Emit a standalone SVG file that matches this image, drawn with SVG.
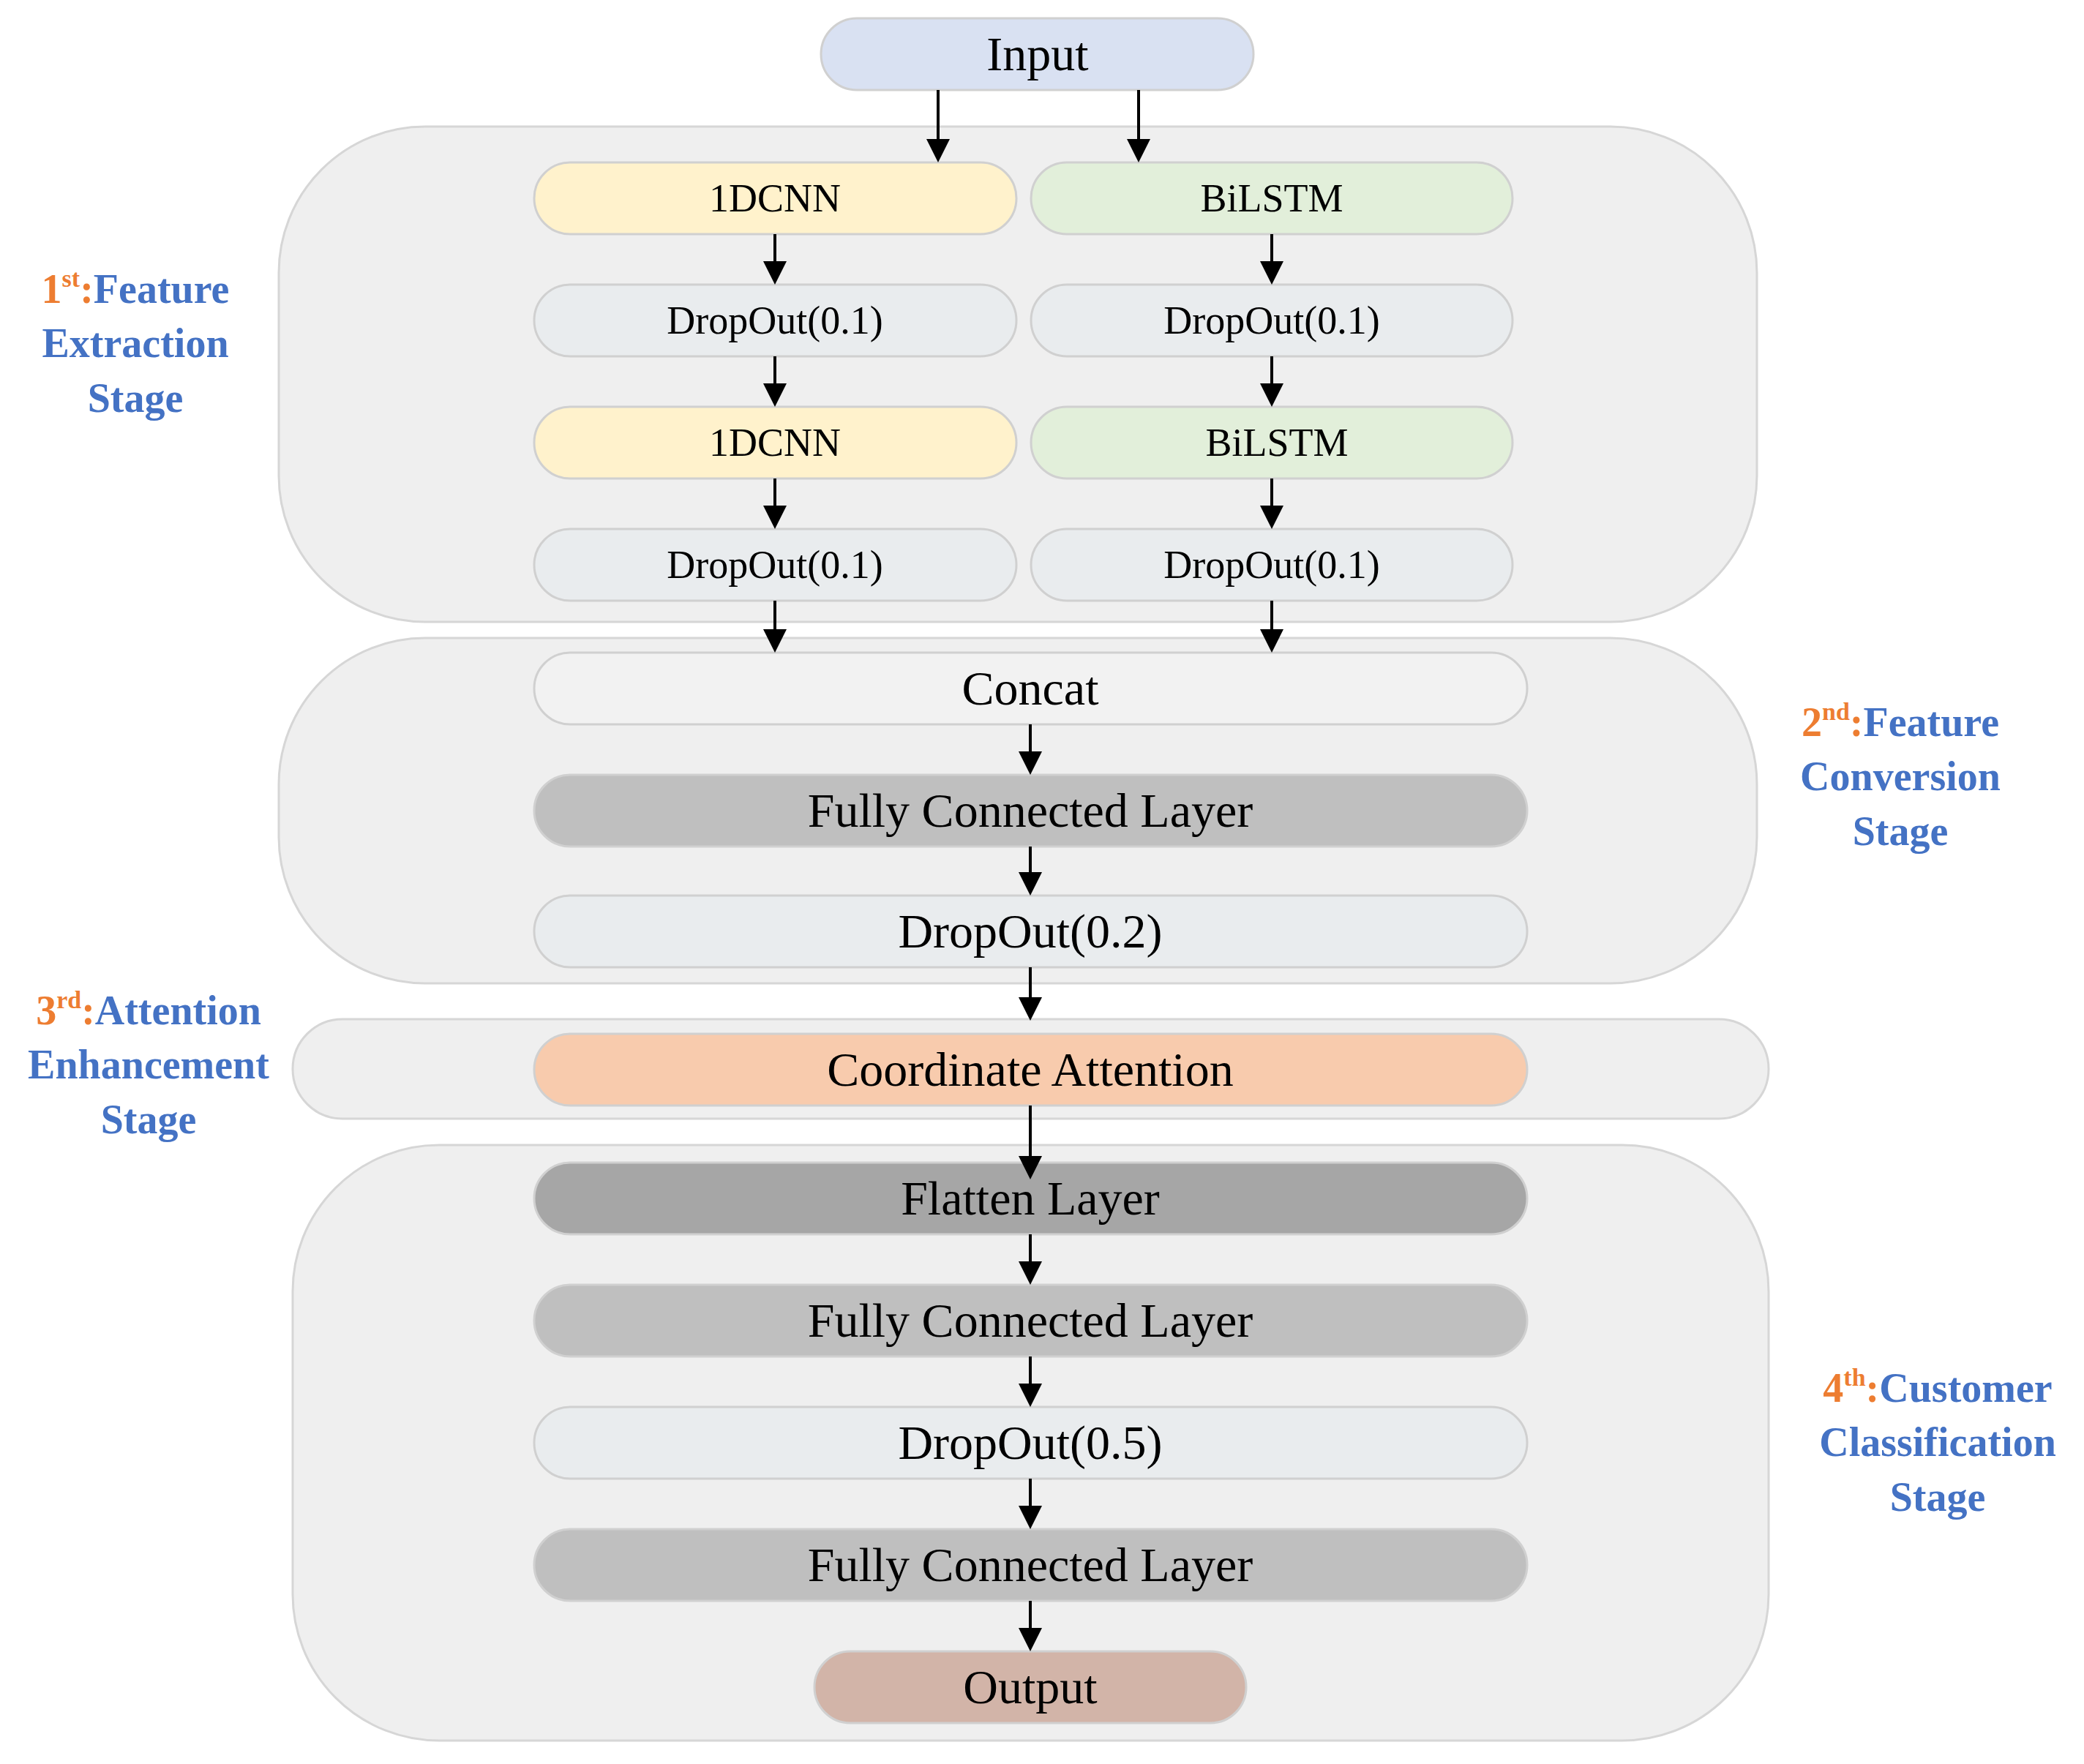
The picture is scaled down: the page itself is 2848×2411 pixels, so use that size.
<svg xmlns="http://www.w3.org/2000/svg" width="2848" height="2411" viewBox="0 0 2848 2411">
<style>
.st{fill:#EFEFEF;stroke:#D6D6D6;stroke-width:3}
.n{stroke:#D0D0D0;stroke-width:3}
.t{font-family:"Liberation Serif",serif;font-size:54px;text-anchor:middle;fill:#000}
.T{font-family:"Liberation Serif",serif;font-size:66px;text-anchor:middle;fill:#000}
.lb{font-family:"Liberation Serif",serif;font-size:56px;font-weight:bold;text-anchor:middle;fill:#4472C4}
.or{fill:#ED7D31}
.c line{stroke:#000;stroke-width:4;marker-end:url(#a)}
</style>
<defs><marker id="a" markerWidth="8" markerHeight="8" refX="7" refY="4" orient="auto" markerUnits="strokeWidth"><path d="M0,0L8,4L0,8z" fill="#000"/></marker></defs>
<g id="stages">
<rect class="st" x="381" y="173" width="2020" height="677" rx="200"/>
<rect class="st" x="381" y="872" width="2020" height="472" rx="200"/>
<rect class="st" x="400" y="1393" width="2017" height="136" rx="68"/>
<rect class="st" x="400" y="1565" width="2017" height="814" rx="200"/>
</g>
<g id="labels">
<text class="lb" x="185" y="414"><tspan class="or">1<tspan font-size="34" dy="-22">st</tspan><tspan dy="22">:</tspan></tspan>Feature</text>
<text class="lb" x="185" y="488">Extraction</text>
<text class="lb" x="185" y="563">Stage</text>
<text class="lb" x="2597" y="1006"><tspan class="or">2<tspan font-size="34" dy="-22">nd</tspan><tspan dy="22">:</tspan></tspan>Feature</text>
<text class="lb" x="2597" y="1080">Conversion</text>
<text class="lb" x="2597" y="1155">Stage</text>
<text class="lb" x="203" y="1400"><tspan class="or">3<tspan font-size="34" dy="-22">rd</tspan><tspan dy="22">:</tspan></tspan>Attention</text>
<text class="lb" x="203" y="1474">Enhancement</text>
<text class="lb" x="203" y="1549">Stage</text>
<text class="lb" x="2648" y="1916"><tspan class="or">4<tspan font-size="34" dy="-22">th</tspan><tspan dy="22">:</tspan></tspan>Customer</text>
<text class="lb" x="2648" y="1990">Classification</text>
<text class="lb" x="2648" y="2065">Stage</text>
</g>
<g id="input"><rect class="n" x="1122" y="25" width="591" height="98" rx="49" fill="#D9E1F2"/><text class="T" x="1418" y="96">Input</text></g>
<g id="cnn1"><rect class="n" x="730" y="222" width="659" height="98" rx="49" fill="#FFF2CC"/><text class="t" x="1059" y="289">1DCNN</text></g>
<g id="lstm1"><rect class="n" x="1409" y="222" width="658" height="98" rx="49" fill="#E2EFDA"/><text class="t" x="1738" y="289">BiLSTM</text></g>
<g id="dl1"><rect class="n" x="730" y="389" width="659" height="98" rx="49" fill="#E9ECEE"/><text class="t" x="1059" y="456">DropOut(0.1)</text></g>
<g id="dr1"><rect class="n" x="1409" y="389" width="658" height="98" rx="49" fill="#E9ECEE"/><text class="t" x="1738" y="456">DropOut(0.1)</text></g>
<g id="cnn2"><rect class="n" x="730" y="556" width="659" height="98" rx="49" fill="#FFF2CC"/><text class="t" x="1059" y="623">1DCNN</text></g>
<g id="lstm2"><rect class="n" x="1409" y="556" width="658" height="98" rx="49" fill="#E2EFDA"/><text class="t" x="1745" y="623">BiLSTM</text></g>
<g id="dl2"><rect class="n" x="730" y="723" width="659" height="98" rx="49" fill="#E9ECEE"/><text class="t" x="1059" y="790">DropOut(0.1)</text></g>
<g id="dr2"><rect class="n" x="1409" y="723" width="658" height="98" rx="49" fill="#E9ECEE"/><text class="t" x="1738" y="790">DropOut(0.1)</text></g>
<g id="concat"><rect class="n" x="730" y="892" width="1357" height="98" rx="49" fill="#F2F2F2"/><text class="T" x="1408" y="963">Concat</text></g>
<g id="fc1"><rect class="n" x="730" y="1059" width="1357" height="98" rx="49" fill="#BFBFBF"/><text class="T" x="1408" y="1130">Fully Connected Layer</text></g>
<g id="d02"><rect class="n" x="730" y="1224" width="1357" height="98" rx="49" fill="#E9ECEE"/><text class="T" x="1408" y="1295">DropOut(0.2)</text></g>
<g id="ca"><rect class="n" x="730" y="1413" width="1357" height="98" rx="49" fill="#F8CBAD"/><text class="T" x="1408" y="1484">Coordinate Attention</text></g>
<g id="flatten"><rect class="n" x="730" y="1589" width="1357" height="98" rx="49" fill="#A6A6A6"/><text class="T" x="1408" y="1660">Flatten Layer</text></g>
<g id="fc2"><rect class="n" x="730" y="1756" width="1357" height="98" rx="49" fill="#BFBFBF"/><text class="T" x="1408" y="1827">Fully Connected Layer</text></g>
<g id="d05"><rect class="n" x="730" y="1923" width="1357" height="98" rx="49" fill="#E9ECEE"/><text class="T" x="1408" y="1994">DropOut(0.5)</text></g>
<g id="fc3"><rect class="n" x="730" y="2090" width="1357" height="98" rx="49" fill="#BFBFBF"/><text class="T" x="1408" y="2161">Fully Connected Layer</text></g>
<g id="output"><rect class="n" x="1113" y="2257" width="590" height="98" rx="49" fill="#D2B4A8"/><text class="T" x="1408" y="2328">Output</text></g>
<g class="c" id="connectors">
<line x1="1282" y1="123" x2="1282" y2="218"/>
<line x1="1556" y1="123" x2="1556" y2="218"/>
<line x1="1059" y1="320" x2="1059" y2="385"/>
<line x1="1738" y1="320" x2="1738" y2="385"/>
<line x1="1059" y1="487" x2="1059" y2="552"/>
<line x1="1738" y1="487" x2="1738" y2="552"/>
<line x1="1059" y1="654" x2="1059" y2="719"/>
<line x1="1738" y1="654" x2="1738" y2="719"/>
<line x1="1059" y1="821" x2="1059" y2="888"/>
<line x1="1738" y1="821" x2="1738" y2="888"/>
<line x1="1408" y1="990" x2="1408" y2="1055"/>
<line x1="1408" y1="1157" x2="1408" y2="1220"/>
<line x1="1408" y1="1322" x2="1408" y2="1391"/>
<line x1="1408" y1="1511" x2="1408" y2="1608"/>
<line x1="1408" y1="1687" x2="1408" y2="1752"/>
<line x1="1408" y1="1854" x2="1408" y2="1919"/>
<line x1="1408" y1="2021" x2="1408" y2="2086"/>
<line x1="1408" y1="2188" x2="1408" y2="2253"/>
</g>
</svg>
